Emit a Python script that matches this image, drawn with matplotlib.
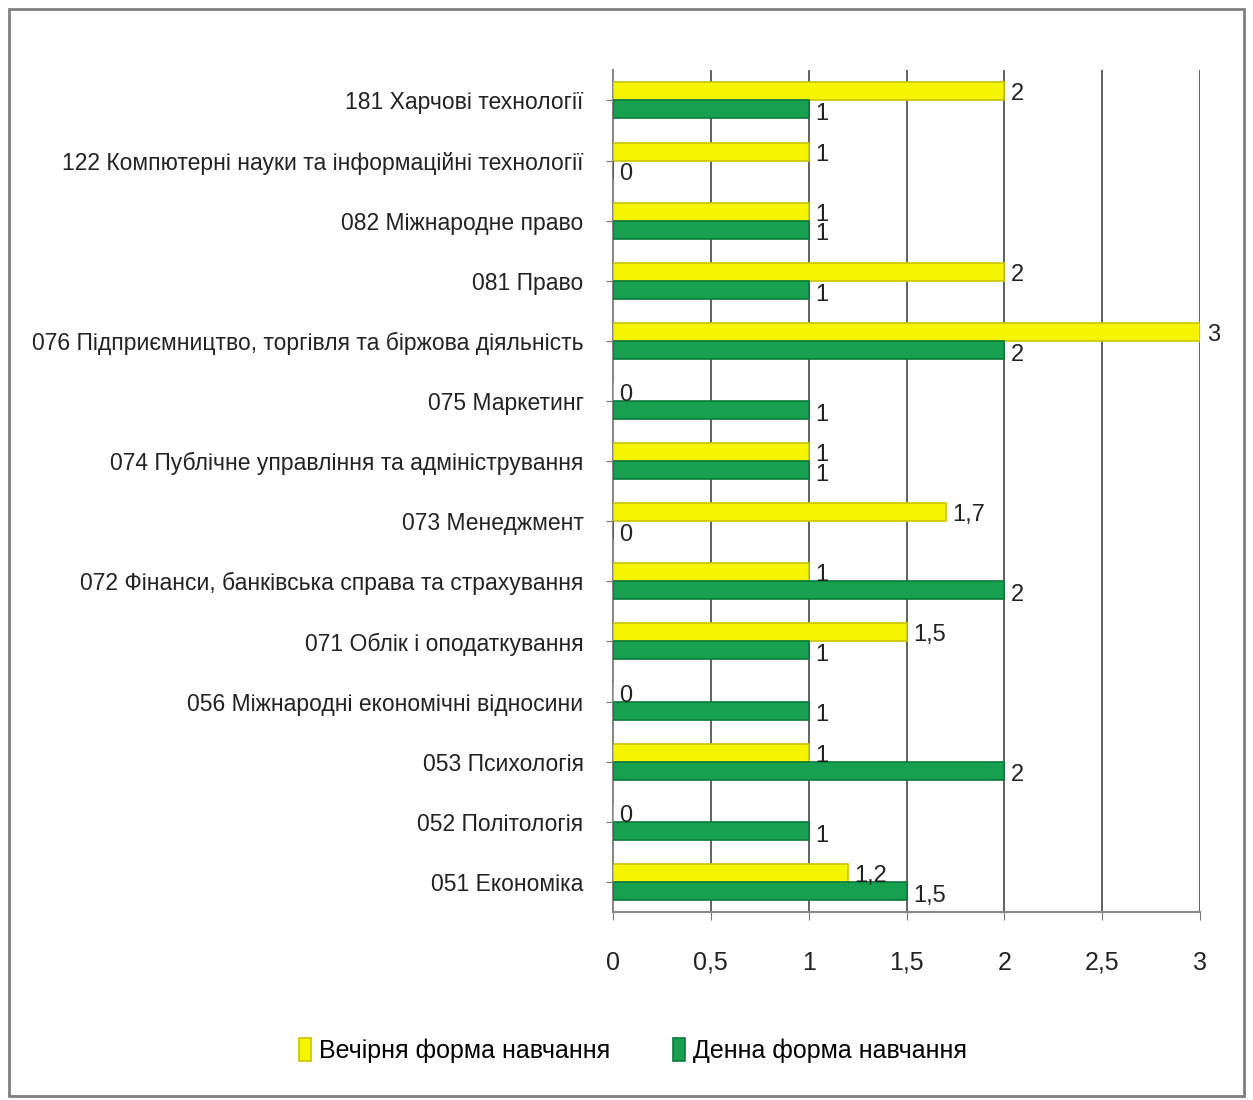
import numpy as np
import matplotlib.pyplot as plt
from matplotlib.patches import Rectangle

plt.rcParams["font.family"] = ["Liberation Sans", "DejaVu Sans"]

# Data (bottom to top)
categories = [
    "051 Економіка",
    "052 Політологія",
    "053 Психологія",
    "056 Міжнародні економічні відносини",
    "071 Облік і оподаткування",
    "072 Фінанси, банківська справа та страхування",
    "073 Менеджмент",
    "074 Публічне управління та адміністрування",
    "075 Маркетинг",
    "076 Підприємництво, торгівля та біржова діяльність",
    "081 Право",
    "082 Міжнародне право",
    "122 Компютерні науки та інформаційні технології",
    "181 Харчові технології",
]
evening = [1.2, 0, 1, 0, 1.5, 1, 1.7, 1, 0, 3, 2, 1, 1, 2]
daytime = [1.5, 1, 2, 1, 1, 2, 0, 1, 1, 2, 1, 1, 0, 1]
xticks = [0, 0.5, 1, 1.5, 2, 2.5, 3]

series_names = ["Вечірня форма навчання", "Денна форма навчання"]
yellow = "#f5f500"
green = "#16a050"


def fmt(v):
    return ("%g" % v).replace(".", ",")


fig = plt.figure(figsize=(12.53, 11), dpi=100)
ax = fig.add_axes([0.489, 0.171, 0.469, 0.765])

y = np.arange(len(categories))
h = 0.3

ax.barh(y + h / 2, evening, height=h, color=yellow,
        edgecolor="#c9c400", linewidth=1.2, zorder=3,
        label=series_names[0])
ax.barh(y - h / 2, daytime, height=h, color=green,
        edgecolor="#0b7a3a", linewidth=1.2, zorder=3,
        label=series_names[1])

for i in range(len(categories)):
    ax.text(evening[i] + 0.035, y[i] + h / 2 - 0.05, fmt(evening[i]),
            va="center", ha="left", fontsize=17, color="#222222", zorder=4)
    ax.text(daytime[i] + 0.035, y[i] - h / 2 - 0.08, fmt(daytime[i]),
            va="center", ha="left", fontsize=17, color="#222222", zorder=4)

ax.set_xlim(0, 3)
ax.set_ylim(-0.5, len(categories) - 0.5)
ax.set_xticks(xticks)
ax.set_xticklabels([fmt(v) for v in xticks], fontsize=18, color="#222222")
ax.set_yticks(y)
ax.set_yticklabels(categories, fontsize=16.5, color="#222222")
ax.tick_params(axis="y", length=5, color="#777777", pad=16)
ax.tick_params(axis="x", length=6, color="#777777", pad=22)

ax.grid(axis="x", color="#555555", linewidth=1.3, zorder=0)
for side in ["top", "right"]:
    ax.spines[side].set_visible(False)
for side in ["left", "bottom"]:
    ax.spines[side].set_color("#888888")
    ax.spines[side].set_linewidth(1.5)

fig.legend(loc="center", bbox_to_anchor=(0.505, 0.045), ncol=2,
           frameon=False, fontsize=18, handlelength=0.5,
           handleheight=1.0, handletextpad=0.3, columnspacing=2.5)

# outer frame
fig.patches.append(Rectangle((0.007, 0.004), 0.986, 0.988,
                             transform=fig.transFigure, fill=False,
                             edgecolor="#808080", linewidth=2))

fig.savefig("out.png", dpi=100)
